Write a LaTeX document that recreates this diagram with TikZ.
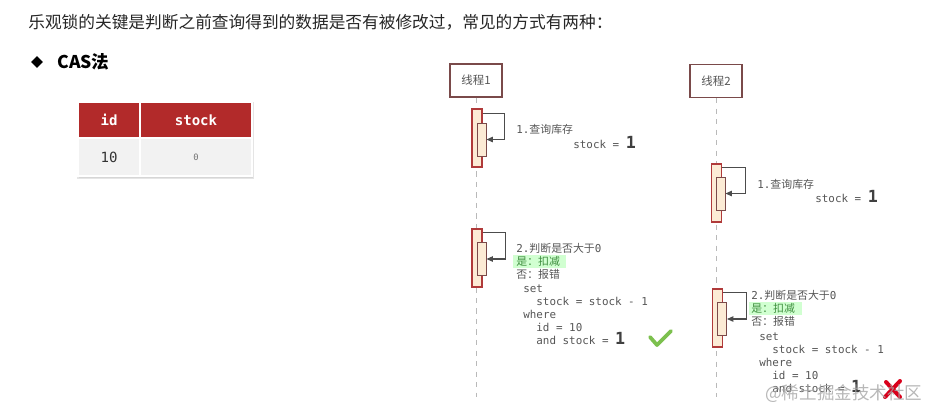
\documentclass[tikz,border=0pt]{standalone}
\usepackage{fontspec}
\setmainfont{Liberation Sans}
\setmonofont{DejaVu Sans Mono}
\newfontfamily\cjk{Noto Sans CJK SC}
\usetikzlibrary{positioning,arrows.meta,calc,shapes.geometric}

\definecolor{tblred}{HTML}{B22A2A}
\definecolor{headline}{HTML}{7A4A4A}
\definecolor{actred}{HTML}{B03A3A}
\definecolor{actfill}{HTML}{FCEBD5}
\definecolor{txtgray}{HTML}{555555}
\definecolor{okgreen}{HTML}{7CC04E}
\definecolor{badred}{HTML}{D9001B}
\definecolor{notegreen}{HTML}{3E8E3E}

\newcommand{\zh}[1]{{\cjk #1}}
\newcommand{\bigone}[1]{{\ttfamily\bfseries\fontsize{9.5}{7.4}\selectfont\color{black!75}#1}}

\begin{document}
\begin{tikzpicture}[
  x=0.02cm, y=-0.02cm,
  thread/.style={
    rectangle, draw=headline, line width=0.6pt, fill=white,
    minimum width=1.04cm, minimum height=0.66cm,
    font=\cjk\fontsize{6.5}{7}\selectfont, text=txtgray
  },
  life/.style={draw=gray!55, dashed, line width=0.5pt},
  actout/.style={
    rectangle, draw=actred, fill=actfill, line width=0.6pt,
    minimum width=0.2cm, minimum height=1.16cm, inner sep=0pt
  },
  actin/.style={
    rectangle, draw=headline, fill=actfill, line width=0.5pt,
    minimum width=0.18cm, minimum height=0.66cm, inner sep=0pt
  },
  selfcall/.style={
    -{Triangle[length=1.3mm,width=1.1mm]},
    draw=black!70, line width=0.6pt
  },
  note/.style={
    font=\ttfamily\fontsize{6.2}{7.4}\selectfont, text=txtgray,
    align=left, inner sep=0pt, anchor=north west
  },
  val/.style={note, anchor=west},
  hl/.style={fill=green!18},
  thead/.style={
    rectangle, fill=tblred, draw=white, line width=0.6pt,
    minimum height=0.72cm, text=white,
    font=\ttfamily\bfseries\fontsize{8}{9}\selectfont
  },
  tcell/.style={
    rectangle, fill=black!5, draw=white, line width=0.6pt,
    minimum height=0.76cm, text=black!80
  }
]
\useasboundingbox (0,0) rectangle (932,410);

% ─── Heading ────────────────────────────────────────────────
\node[anchor=west, inner sep=0pt, font=\cjk\fontsize{9.5}{11}\selectfont, text=black!85]
  (title) at (28,22) {乐观锁的关键是判断之前查询得到的数据是否有被修改过，常见的方式有两种：};
\node[diamond, fill=black, inner sep=0pt, minimum size=0.24cm] (bullet) at (37,62) {};
\node[anchor=west, inner sep=0pt, font=\cjk\bfseries\fontsize{10}{11}\selectfont]
  (cas) at (57,62) {CAS法};

% ─── Table ──────────────────────────────────────────────────
\fill[black!10] (77,102) rectangle (254,179);
\fill[black!16] (79,104) rectangle (253,178);
\node[thead, minimum width=1.24cm] (hid)    at (109,120) {id};
\node[thead, minimum width=2.24cm] (hstock) at (196,120) {stock};
\node[tcell, minimum width=1.24cm, font=\ttfamily\fontsize{8}{9}\selectfont] (vid) at (109,157) {10};
\node[tcell, minimum width=2.24cm, font=\ttfamily\fontsize{5}{6}\selectfont, text=black!55] (vstock) at (196,157) {0};

% ─── Threads ────────────────────────────────────────────────
\node[thread] (th1) at (476,80.5) {线程1};
\node[thread] (th2) at (716,81)   {线程2};
\coordinate (t1end) at (477,397);
\coordinate (t2end) at (716,397);
\draw[life] (th1.south) -- (th1.south |- t1end);
\draw[life] (th2.south) -- (th2.south |- t2end);

% ─── Thread 1 ───────────────────────────────────────────────
\node[actout] (t1s1)   at (477,138)   {};
\node[actin]  (t1s1in) at (481.5,139.5) {};
\draw[selfcall] ($(t1s1.north east)+(0,5)$) -- ++(22,0) |- (t1s1in.east);
\node[val] (t1q1) at (516,129) {1.\zh{查询库存}};
\node[val] (t1v1) at (573,142) {stock = \bigone{1}};

\node[actout] (t1s2)   at (477,258)   {};
\node[actin]  (t1s2in) at (481.5,259) {};
\draw[selfcall] ($(t1s2.north east)+(0,4)$) -- ++(23,0) |- (t1s2in.east);
\fill[hl] (513,255) rectangle (566,268);
\node[note] (t1j) at (516,243)
  {2.\zh{判断是否大于}0\\ \textcolor{notegreen}{\zh{是：扣减}}\\ \zh{否：报错}};
\node[note] (t1c) at (523,284)
  {set\\ \hspace*{1.2em}stock = stock - 1\\ where\\ \hspace*{1.2em}id = 10\\ \hspace*{1.2em}and stock = \bigone{1}};

% ─── Thread 2 ───────────────────────────────────────────────
\node[actout] (t2s1)   at (716.5,193) {};
\node[actin]  (t2s1in) at (720.5,193.5) {};
\draw[selfcall] ($(t2s1.north east)+(0,4)$) -- ++(23,0) |- (t2s1in.east);
\node[val] (t2q1) at (757,184) {1.\zh{查询库存}};
\node[val] (t2v1) at (815,196) {stock = \bigone{1}};

\node[actout] (t2s2)   at (717.5,318) {};
\node[actin]  (t2s2in) at (722,319)   {};
\draw[selfcall] ($(t2s2.north east)+(0,4)$) -- ++(23,0) |- (t2s2in.east);
\fill[hl] (749,302) rectangle (802,315);
\node[note] (t2j) at (751,290)
  {2.\zh{判断是否大于}0\\ \textcolor{notegreen}{\zh{是：扣减}}\\ \zh{否：报错}};
\node[note] (t2c) at (759,332)
  {set\\ \hspace*{1.2em}stock = stock - 1\\ where\\ \hspace*{1.2em}id = 10\\ \hspace*{1.2em}and stock = \bigone{1}};

% ─── Result marks ───────────────────────────────────────────
\draw[okgreen, line width=0.075cm, line cap=round, line join=round]
  (650,337) -- (657,345) -- (671,331);
\draw[badred, line width=0.08cm, line cap=round] (886,382) -- (900,397);
\draw[badred, line width=0.08cm, line cap=round] (900,381) -- (885,397);

% ─── Watermark ──────────────────────────────────────────────
\node[anchor=west, inner sep=0pt, text=black!35, opacity=0.8,
  font=\cjk\fontsize{10}{11}\selectfont] (mark) at (765,394) {@稀土掘金技术社区};
\end{tikzpicture}
\end{document}
